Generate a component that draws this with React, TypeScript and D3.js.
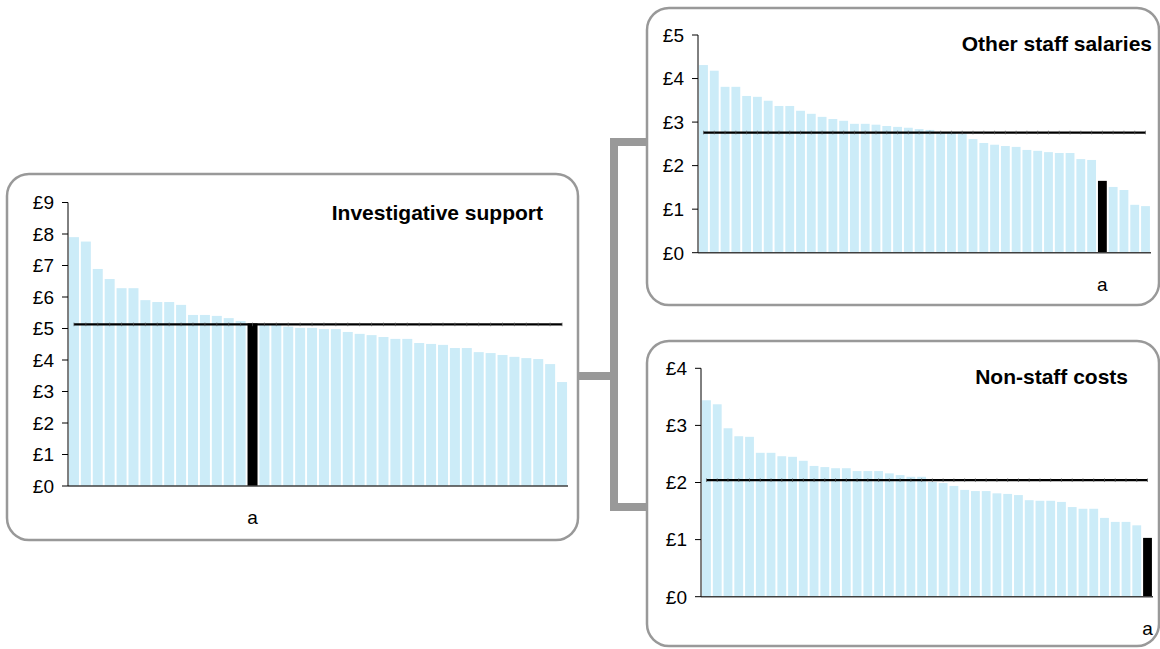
import React from "react";
import * as d3 from "d3";

// ---- data ----
const investigativeValues = [7.9, 7.76, 6.89, 6.57, 6.28, 6.28, 5.9, 5.84, 5.84, 5.75, 5.43, 5.43, 5.4, 5.33, 5.24, 5.16, 5.14, 5.14, 5.06, 5.02, 5.02, 4.98, 4.98, 4.89, 4.83, 4.79, 4.73, 4.67, 4.67, 4.54, 4.51, 4.48, 4.38, 4.38, 4.25, 4.22, 4.16, 4.1, 4.06, 4.03, 3.87, 3.3];
const otherStaffValues = [4.31, 4.18, 3.81, 3.81, 3.6, 3.58, 3.49, 3.37, 3.37, 3.26, 3.19, 3.12, 3.07, 3.03, 2.96, 2.96, 2.94, 2.91, 2.89, 2.87, 2.84, 2.82, 2.77, 2.75, 2.73, 2.61, 2.52, 2.48, 2.45, 2.43, 2.36, 2.34, 2.31, 2.29, 2.29, 2.15, 2.13, 1.65, 1.51, 1.44, 1.1, 1.07];
const nonStaffValues = [3.44, 3.37, 2.95, 2.81, 2.8, 2.52, 2.52, 2.46, 2.45, 2.38, 2.29, 2.27, 2.25, 2.25, 2.2, 2.2, 2.2, 2.16, 2.13, 2.1, 2.1, 2.01, 1.99, 1.94, 1.87, 1.85, 1.85, 1.81, 1.8, 1.78, 1.69, 1.68, 1.68, 1.66, 1.57, 1.54, 1.54, 1.38, 1.31, 1.31, 1.25, 1.03];
const averages = [5.13, 2.76, 2.04];
const highlightIndex = [15, 37, 41];
const highlightLabel = "a";
const titles = ["Investigative support", "Other staff salaries", "Non-staff costs"];
const yMaxes = [9, 5, 4];

const FONT = "Arial, 'Liberation Sans', Helvetica, sans-serif";
const BAR = "#ccecf8";
const GREY = "#999999";

type Layout = {
  box: [number, number, number, number];
  x0: number; x1: number; yBase: number; yTop: number;
  titleX: number; titleY: number;
  padIn: number; padOut: number;
};

const layouts: Layout[] = [
  { box: [7, 174, 578, 540], x0: 68, x1: 568, yBase: 486, yTop: 202.5, titleX: 543, titleY: 220, padIn: 0.16, padOut: 0.08 },
  { box: [647, 8, 1159, 305], x0: 698, x1: 1151, yBase: 252.7, yTop: 35, titleX: 1152, titleY: 51, padIn: 0.18, padOut: 0.1 },
  { box: [647, 341, 1159, 646], x0: 701, x1: 1153, yBase: 596.7, yTop: 368.3, titleX: 1128, titleY: 384, padIn: 0.18, padOut: 0.1 },
];

function Panel({ values, avg, hi, title, yMax, L }: { values: number[]; avg: number; hi: number; title: string; yMax: number; L: Layout }) {
  const cats = d3.range(values.length);
  const x = d3.scaleBand<number>().domain(cats).range([L.x0, L.x1]).paddingInner(L.padIn).paddingOuter(L.padOut);
  const y = d3.scaleLinear().domain([0, yMax]).range([L.yBase, L.yTop]);
  const ticks = d3.range(0, yMax + 1);
  const bw = x.bandwidth();
  const [bx0, by0, bx1, by1] = L.box;
  const line = d3.line<number>().x((i) => (x(i) as number) + bw / 2).y(() => y(avg));
  return (
    <g>
      <rect x={bx0} y={by0} width={bx1 - bx0} height={by1 - by0} rx={22} ry={22} fill="#fff" stroke={GREY} strokeWidth={2.5} />
      {values.map((v, i) => (
        <rect key={i} x={x(i)} y={y(v)} width={bw} height={y(0) - y(v)} fill={i === hi ? "#000" : BAR} />
      ))}
      <line x1={L.x0} x2={L.x1} y1={y(0)} y2={y(0)} stroke="#404040" strokeWidth={1.5} />
      <line x1={L.x0} x2={L.x0} y1={y(0)} y2={y(yMax)} stroke="#000" strokeWidth={1} />
      {ticks.map((t) => (
        <g key={t}>
          <line x1={L.x0 - 6} x2={L.x0} y1={y(t)} y2={y(t)} stroke="#000" strokeWidth={1} />
          <text x={L.x0 - 14} y={y(t)} dy="0.36em" textAnchor="end" fontSize={19} fontFamily={FONT} fill="#000">{"£" + t}</text>
        </g>
      ))}
      <path d={line(cats) || ""} stroke="#000" strokeWidth={2.2} fill="none" />
      {cats.map((i) => (
        <line key={"m" + i} x1={(x(i) as number) + bw / 2} x2={(x(i) as number) + bw / 2} y1={y(avg) - 1.8} y2={y(avg) + 1.8} stroke="#555" strokeWidth={0.7} />
      ))}
      <text x={(x(hi) as number) + bw / 2} y={y(0) + 38} textAnchor="middle" fontSize={19} fontFamily={FONT}>{highlightLabel}</text>
      <text x={L.titleX} y={L.titleY} textAnchor="end" fontSize={21} fontWeight="bold" fontFamily={FONT}>{title}</text>
    </g>
  );
}

export default function App() {
  const series = [investigativeValues, otherStaffValues, nonStaffValues];
  return (
    <svg width={1160} height={649} style={{ position: "absolute", left: 0, top: 0, background: "#fff" }}>
      <rect x={0} y={0} width={1160} height={649} fill="#fff" />
      {series.map((vals, k) => (
        <Panel key={k} values={vals} avg={averages[k]} hi={highlightIndex[k]} title={titles[k]} yMax={yMaxes[k]} L={layouts[k]} />
      ))}
      <path d="M647,142 H614 V507 H647" fill="none" stroke={GREY} strokeWidth={8} />
      <path d="M578,376 H614" fill="none" stroke={GREY} strokeWidth={8} />
    </svg>
  );
}
